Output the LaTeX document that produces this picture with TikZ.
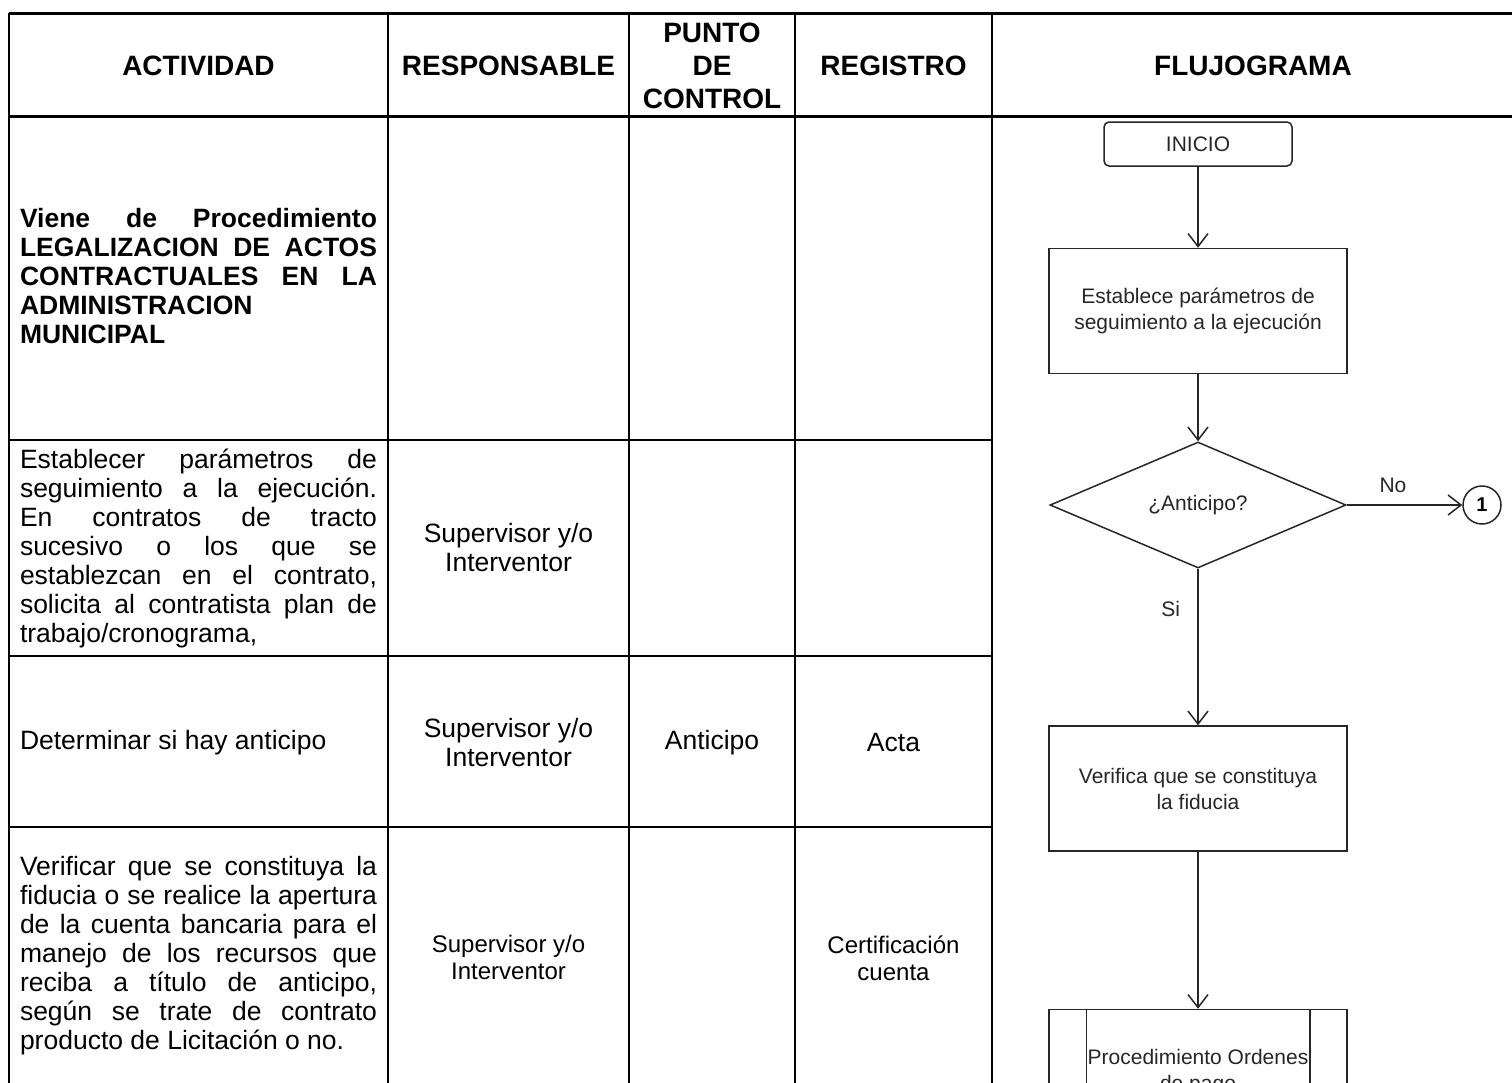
\documentclass[tikz,border=0pt]{standalone}
\usepackage{fontspec}
\setmainfont{Liberation Sans}
\usepackage{tikz}
\usetikzlibrary{shapes.geometric, arrows.meta, positioning}
\newcommand{\cabeza}{\fontsize{28}{33}\selectfont\bfseries}
\newcommand{\cuerpo}{\fontsize{26.5}{29}\selectfont}
\newcommand{\menor}{\fontsize{24}{27}\selectfont}
\newcommand{\flujo}{\fontsize{21}{26}\selectfont}

\begin{document}
\begin{tikzpicture}[x=1pt, y=-1pt,
            borde/.style = {line width=3pt},
            linea/.style = {line width=2pt},
            titulo/.style = {inner sep=0pt, align=center, font=\cabeza},
            texto/.style = {inner sep=0pt, text width=357pt, align=justify, font=\cuerpo},
            celda/.style = {inner sep=0pt, align=center, font=\cuerpo},
            traza/.style = {line width=1.5pt, draw=black!85},
            caja/.style = {traza, rectangle, minimum width=298pt, minimum height=125pt,
                inner sep=0pt, align=center, font=\flujo, text=black!85},
            inicio/.style = {traza, rectangle, rounded corners=5pt, minimum width=188pt,
                minimum height=44pt, inner sep=0pt, font=\flujo, text=black!85},
            decision/.style = {traza, diamond, minimum width=296pt, minimum height=126pt,
                inner sep=0pt, font=\flujo, text=black!85},
            conector/.style = {traza, circle, minimum size=38pt, inner sep=0pt,
                font=\fontsize{20}{24}\selectfont\bfseries},
            flecha/.style = {traza, -{Straight Barb[length=13pt, width=20pt]}}]

        \useasboundingbox (0,0) rectangle (1512,1082);

        % Table lines
        \draw[borde] (9,13) -- (1530,13);
        \draw[borde] (9,116) -- (1530,116);
        \foreach \x in {9,388,629,795,992}
            \draw[linea] (\x,13) -- (\x,1100);
        \foreach \y in {440,656,827}
            \draw[linea] (9,\y) -- (992,\y);

        % Header
        \node[titulo] (actividad) at (198.5,66) {ACTIVIDAD};
        \node[titulo] (responsable) at (508.5,66) {RESPONSABLE};
        \node[titulo] (punto) at (712,66) {PUNTO\\DE\\CONTROL};
        \node[titulo] (registro) at (893.5,66) {REGISTRO};
        \node[titulo] (flujograma) at (1253,66) {FLUJOGRAMA};

        % Row 1
        \node[texto, font=\cuerpo\bfseries] (viene) at (198.5,276)
            {Viene de Procedimiento\linebreak LEGALIZACION DE ACTOS\linebreak
             CONTRACTUALES EN LA\linebreak ADMINISTRACION\\ MUNICIPAL};

        % Row 2
        \node[texto] (establecer) at (198.5,548)
            {Establecer parámetros de\linebreak seguimiento a la ejecución.\linebreak
             En contratos de tracto\linebreak sucesivo o los que se\linebreak
             establezcan en el contrato,\linebreak solicita al contratista plan de\linebreak
             trabajo/cronograma,};
        \node[celda] (resp2) at (508.5,548) {Supervisor y/o\\Interventor};

        % Row 3
        \node[texto] (determinar) at (198.5,743) {Determinar si hay anticipo};
        \node[celda] (resp3) at (508.5,743) {Supervisor y/o\\Interventor};
        \node[celda] (control3) at (712,743) {Anticipo};
        \node[celda] (registro3) at (893.5,743) {Acta};

        % Row 4
        \node[texto] (verificar) at (198.5,956)
            {Verificar que se constituya la\linebreak
             fiducia o se realice la apertura\linebreak de la cuenta bancaria para el\linebreak
             manejo de los recursos que\linebreak reciba a título de anticipo,\linebreak
             según se trate de contrato\linebreak producto de Licitación o no.};
        \node[celda, font=\menor] (resp4) at (508.5,957) {Supervisor y/o\\Interventor};
        \node[celda, font=\menor] (registro4) at (893.5,958) {Certificación\\cuenta};

        % Flowchart
        \node[inicio] (inicio) at (1198,144) {INICIO};
        \node[caja] (establece) at (1198,311) {Establece parámetros de\\seguimiento a la ejecución};
        \node[decision] (anticipo) at (1198,505) {¿Anticipo?};
        \node[conector] (uno) at (1482,505) {1};
        \node[caja] (verifica) at (1198,788.5) {Verifica que se constituya\\la fiducia};
        \node[caja] (ordenes) at (1198,1072) {Procedimiento Ordenes\\de pago};
        \draw[traza] ([xshift=38pt]ordenes.north west) -- ([xshift=38pt]ordenes.south west);
        \draw[traza] ([xshift=-38pt]ordenes.north east) -- ([xshift=-38pt]ordenes.south east);

        % Arrows
        \draw[flecha] (inicio) -- (establece);
        \draw[flecha] (establece) -- (anticipo);
        \draw[flecha] (anticipo) -- node[pos=0.26, left=14pt, font=\flujo, text=black!85] {Si} (verifica);
        \draw[flecha] (anticipo) -- node[pos=0.4, above=8pt, font=\flujo, text=black!85] {No} (uno);
        \draw[flecha] (verifica) -- (ordenes);

\end{tikzpicture}
\end{document}
